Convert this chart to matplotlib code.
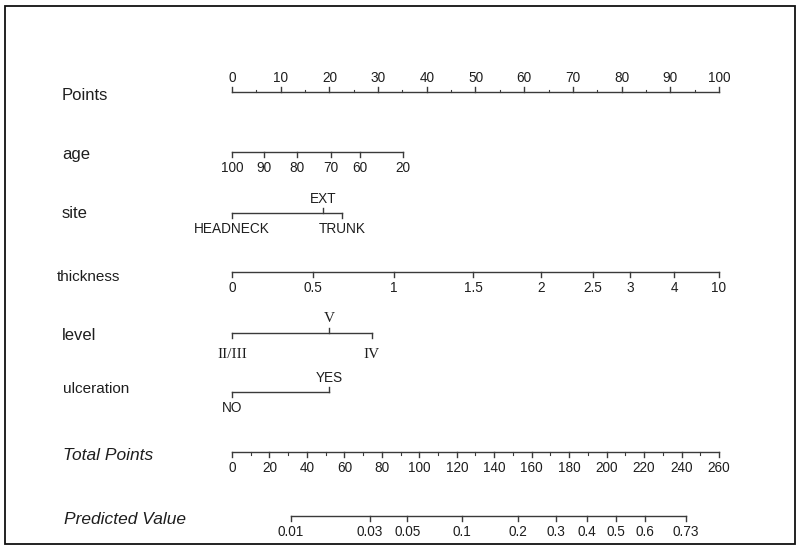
"""Nomograma de melanoma (points / total points / predicted value)."""

import matplotlib.pyplot as plt
from matplotlib.patches import Rectangle

# --- datos (posicion en escala "Points" 0-100) ---
points_ticks = list(range(0, 101, 10))

age_labels = ["100", "90", "80", "70", "60", "20"]
age_points = [0, 6.6, 13.3, 20.3, 26.3, 35.1]

site_labels = ["HEADNECK", "EXT", "TRUNK"]
site_points = [0, 18.7, 22.6]

thickness_labels = ["0", "0.5", "1", "1.5", "2", "2.5", "3", "4", "10"]
thickness_points = [0, 16.6, 33.3, 49.5, 63.4, 74.1, 81.7, 90.8, 100]

level_labels = ["II/III", "V", "IV"]
level_points = [0, 19.9, 28.7]

ulcer_labels = ["NO", "YES"]
ulcer_points = [0, 19.9]

total_ticks = list(range(0, 261, 20))
total_max = 260

pred_labels = ["0.01", "0.03", "0.05", "0.1", "0.2", "0.3", "0.4", "0.5", "0.6", "0.73"]
pred_total = [31.5, 73.7, 93.6, 122.8, 152.8, 173.0, 189.5, 205.0, 220.5, 242.4]

# --- layout (pixeles de la figura) ---
X0, PX_PER_PT = 232, 4.87
LINE = "#3a3a3a"
TXT = "#1e1e1e"
FS_LAB, FS_TICK = 12, 9.8
plt.rcParams["font.family"] = ["Liberation Sans", "DejaVu Sans"]

fig = plt.figure(figsize=(8, 5.5), dpi=100)
ax = fig.add_axes([0, 0, 1, 1])
ax.set_xlim(-X0 / PX_PER_PT, (800 - X0) / PX_PER_PT)
ax.set_ylim(550, 0)
ax.axis("off")

fig.patches.append(Rectangle((5 / 800, 6 / 550), 790 / 800, 538 / 550,
                             transform=fig.transFigure, fill=False,
                             edgecolor="#111111", linewidth=1.3))

TL = 5  # largo de tick en pixeles


def axis_line(y, xs, labels, up_idx=(), label_above=False, minor=None,
              serif=False):
    """Dibuja una escala: linea, ticks y etiquetas."""
    ax.plot([min(xs), max(xs)], [y, y], color=LINE, lw=1)
    fam = ["Liberation Serif"] if serif else ["Liberation Sans", "DejaVu Sans"]
    fs = FS_TICK + 1.2 if serif else FS_TICK
    below = 21 if serif else 16
    for i, (x, lab) in enumerate(zip(xs, labels)):
        up = label_above or i in up_idx
        d = -TL if up else TL
        ax.plot([x, x], [y, y + d], color=LINE, lw=1)
        ty = y - 14 if up else y + below
        ax.text(x, ty, lab, ha="center", va="center", fontsize=fs,
                color=TXT, family=fam)
    if minor is not None:
        for x in minor:
            d = -TL * 0.5 if label_above else TL * 0.5
            ax.plot([x, x], [y, y + d], color=LINE, lw=0.8)


def row_label(y, text, x=62, italic=False, size=FS_LAB):
    ax.text((x - X0) / PX_PER_PT, y, text, ha="left", va="center",
            fontsize=size, color=TXT, style="italic" if italic else "normal")


# Points
axis_line(92, points_ticks, [str(v) for v in points_ticks], label_above=True,
          minor=[v + 5 for v in points_ticks[:-1]])
row_label(96, "Points")

# age
axis_line(152, age_points, age_labels)
row_label(155, "age")

# site
axis_line(213, site_points, site_labels, up_idx=(1,))
row_label(214, "site")

# thickness
axis_line(272, thickness_points, thickness_labels)
row_label(277, "thickness", x=57, size=11)

# level (etiquetas en serif)
axis_line(333, level_points, level_labels, up_idx=(1,), serif=True)
row_label(336, "level")

# ulceration
axis_line(392, ulcer_points, ulcer_labels, up_idx=(1,))
row_label(389, "ulceration", x=63, size=11)

# Total Points
scale = 100 / total_max
axis_line(452, [v * scale for v in total_ticks], [str(v) for v in total_ticks],
          minor=[(v + 10) * scale for v in total_ticks[:-1]])
row_label(455, "Total Points", x=63, italic=True, size=12.5)

# Predicted Value
axis_line(516, [v * scale for v in pred_total], pred_labels)
row_label(519, "Predicted Value", x=64, italic=True, size=12.5)

fig.savefig("out.png", dpi=100)
